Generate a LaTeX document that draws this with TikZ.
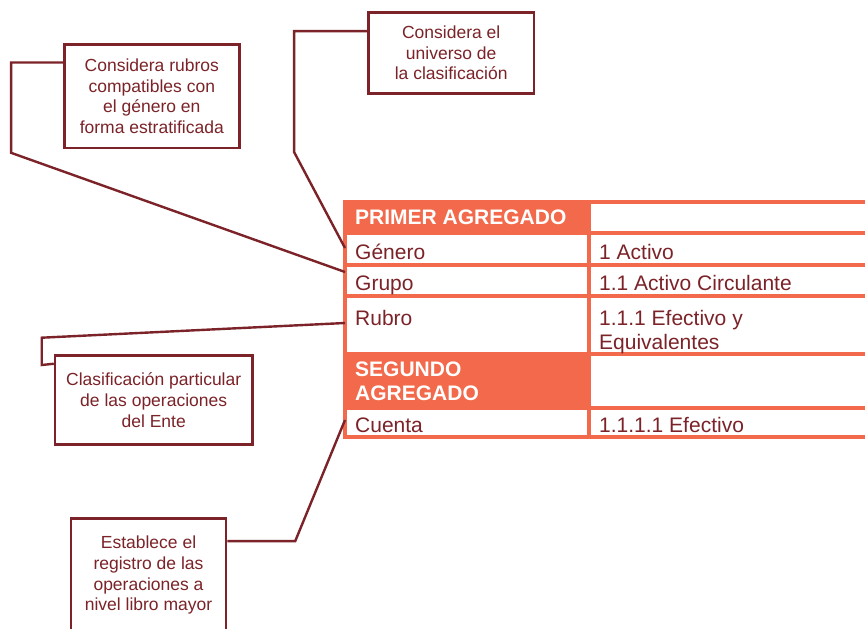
\documentclass[tikz,border=0pt]{standalone}
\usepackage{fontspec}
\setmainfont{Liberation Sans}
\usetikzlibrary{calc}
\definecolor{tborder}{HTML}{F26A4B}
\definecolor{maroon}{HTML}{7B2328}
\begin{document}
\begin{tikzpicture}[x=1pt,y=-1pt,
  note/.style={draw=maroon, line width=2.5pt, text=maroon, align=center,
    font=\fontsize{17.5}{20.7}\selectfont, inner sep=0pt},
  link/.style={draw=maroon, line width=2.4pt, line join=miter},
  grid/.style={draw=tborder, line width=3.2pt, line cap=rect},
  cell/.style={text=maroon, anchor=base west, inner sep=0pt,
    font=\fontsize{21}{24}\selectfont},
  head/.style={text=white, anchor=base west, inner sep=0pt,
    font=\bfseries\fontsize{21}{24}\selectfont}]
\clip (0,0) rectangle (865,629);
\fill[white] (0,0) rectangle (865,629);
% table
\fill[tborder] (345,202) rectangle (589,233);
\fill[tborder] (345,354) rectangle (589,408);
\foreach \yy in {202,233,265,296,354,408,437} \draw[grid] (345,\yy) -- (880,\yy);
\draw[grid] (345,202) -- (345,437);
\draw[grid] (589,202) -- (589,437);
\node[head] (h1) at (355,224) {PRIMER AGREGADO};
\node[cell] (c1) at (355,259) {Género};
\node[cell] (v1) at (599,259) {1 Activo};
\node[cell] (c2) at (355,290) {Grupo};
\node[cell] (v2) at (599,290) {1.1 Activo Circulante};
\node[cell] (c3) at (355,325) {Rubro};
\node[cell] (v3) at (599,325) {1.1.1 Efectivo y};
\node[cell] (v3b) at (599,349) {Equivalentes};
\node[head] (h2) at (355,376) {SEGUNDO};
\node[head] (h2b) at (355,400) {AGREGADO};
\node[cell] (c4) at (355,432) {Cuenta};
\node[cell] (v4) at (599,432) {1.1.1.1 Efectivo};
\coordinate (pGen) at (345,248);
\coordinate (pGru) at (345,272);
\coordinate (pRub) at (345,323);
\coordinate (pCue) at (345,420);
% notes
\node[note, minimum width=175pt, minimum height=103.7pt] (b1) at (151.8,96.2)
  {Considera rubros\\compatibles con\\el género en\\forma estratificada};
\node[note, minimum width=165.7pt, minimum height=80.6pt] (b2) at (451.2,53)
  {Considera el\\universo de\\la clasificación};
\node[note, minimum width=197.3pt, minimum height=88.6pt] (b3) at (153.7,400)
  {Clasificación particular\\de las operaciones\\del Ente};
\node[note, minimum width=155pt, minimum height=114pt] (b4) at (148.5,575.3)
  {Establece el\\registro de las\\operaciones a\\nivel libro mayor};
% connectors
\draw[link] ($(b1.north west)+(0,19.4)$) -- ++(-52,0) -- ++(0,90.3) -- (pGru);
\draw[link] ($(b2.north west)+(0,19.6)$) -- ++(-73,0) -- ++(0,121) -- (pGen);
\draw[link] (pRub) -- (41.7,337.7) -- (41.7,365) -- ($(b3.north west)+(0,9.3)$);
\draw[link] ($(b4.north east)+(0,24)$) -- ++(68,0) -- (pCue);
\end{tikzpicture}
\end{document}
